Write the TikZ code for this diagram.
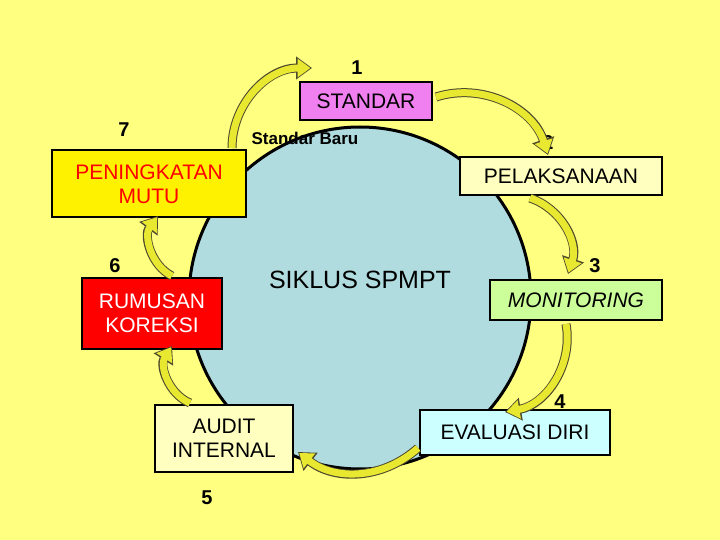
\documentclass[tikz,border=0pt]{standalone}
\usepackage{fontspec}
\setmainfont{Liberation Sans}
\usetikzlibrary{arrows.meta}
\definecolor{bg}{HTML}{FFFF80}
\definecolor{circ}{HTML}{B0DCE0}
\definecolor{pinkb}{HTML}{F080F0}
\definecolor{lyel}{HTML}{FFFFC0}
\definecolor{lgreen}{HTML}{CCFF99}
\definecolor{lcyan}{HTML}{CCFFFF}
\definecolor{arr}{HTML}{E8E830}
\begin{document}
\begin{tikzpicture}[x=1pt,y=-1pt,
  box/.style={draw=black,line width=2pt,align=center,font=\fontsize{21}{24}\selectfont,inner sep=2pt},
  num/.style={font=\fontsize{20}{22}\selectfont\bfseries},
  carr/.style={draw=black!60!olive,line width=9pt,-{Triangle[length=16pt,width=22pt]}},
  carri/.style={draw=arr,line width=7pt,-{Triangle[length=13pt,width=18pt]}}]
\fill[bg] (0,0) rectangle (720,540);
\useasboundingbox (0,0) rectangle (720,540);
\node[circle,draw=black,line width=3pt,fill=circ,minimum size=342pt] (c) at (360,298) {};
\node[box,fill=pinkb,minimum width=132pt,minimum height=38pt] (s1) at (366,101) {STANDAR};
\node[box,fill=lyel,minimum width=202pt,minimum height=38pt] (s2) at (561,176) {PELAKSANAAN};
\node[box,fill=lgreen,minimum width=172pt,minimum height=40pt,font=\fontsize{21}{24}\selectfont\itshape] (s3) at (576,300) {MONITORING};
\node[box,fill=lcyan,minimum width=190pt,minimum height=45pt] (s4) at (515,432) {EVALUASI DIRI};
\node[box,fill=lyel,minimum width=138pt,minimum height=67pt] (s5) at (224,438) {AUDIT\\INTERNAL};
\node[box,fill=red,text=white,minimum width=140pt,minimum height=71pt] (s6) at (152,313) {RUMUSAN\\KOREKSI};
\node[box,fill=yellow,text=red,minimum width=194pt,minimum height=67pt] (s7) at (149,184) {PENINGKATAN\\MUTU};
\node[num] (n1) at (357,68) {1};
\node[num] (n2) at (548,143) {2};
\node[num] (n3) at (595,266) {3};
\node[num] (n4) at (560,402) {4};
\node[num] (n5) at (207,498) {5};
\node[num] (n6) at (115,266) {6};
\node[num] (n7) at (124,130) {7};
\node[font=\fontsize{17}{19}\selectfont\bfseries] (sb) at (305,138) {Standar Baru};
\node[font=\fontsize{25}{28}\selectfont] (t) at (360,280) {SIKLUS SPMPT};
\coordinate (a1s) at (436,97); \coordinate (a1e) at (548,155);
\coordinate (a2s) at (530,198); \coordinate (a2e) at (568,274);
\coordinate (a3s) at (566,324); \coordinate (a3e) at (505,412);
\coordinate (a4s) at (418,448); \coordinate (a4e) at (298,452);
\coordinate (a5s) at (190,403); \coordinate (a5e) at (172,346);
\coordinate (a6s) at (172,276); \coordinate (a6e) at (158,216);
\coordinate (a7s) at (232,148); \coordinate (a7e) at (312,68);
\foreach \s/\e/\b in {a1s/a1e/45,a2s/a2e/45,a3s/a3e/45,a4s/a4e/40,a5s/a5e/50,a6s/a6e/50,a7s/a7e/45}{
  \draw[carr] (\s) to[bend left=\b] (\e);
  \draw[carri,shorten >=1.5pt] (\s) to[bend left=\b] (\e);
}
\end{tikzpicture}
\end{document}
